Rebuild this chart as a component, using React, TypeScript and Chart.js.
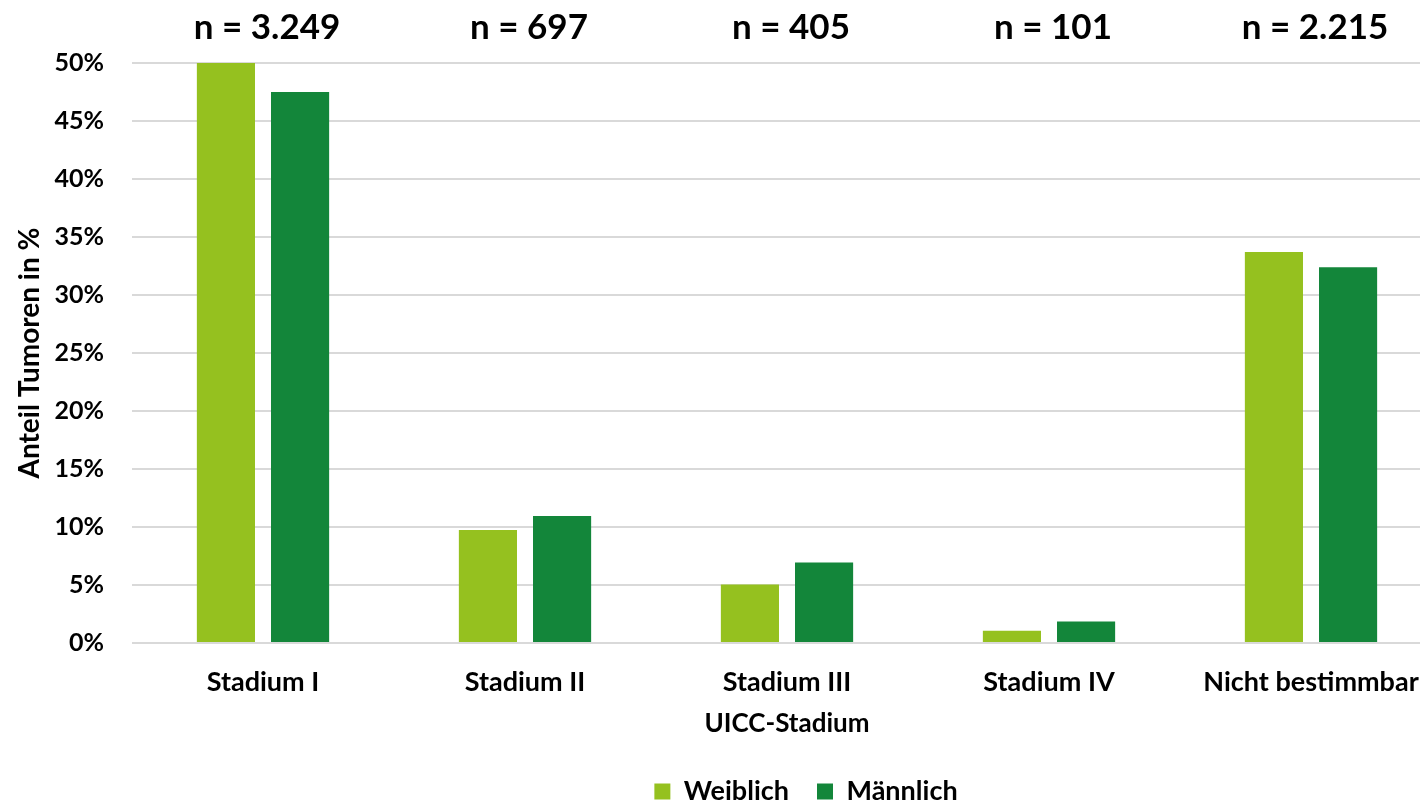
import React, { useEffect, useRef } from "react";
import { Chart, registerables } from "chart.js";

Chart.register(...registerables);

const categories = ["Stadium I", "Stadium II", "Stadium III", "Stadium IV", "Nicht bestimmbar"];
const weiblich = [50.0, 9.75, 5.05, 1.05, 33.7];
const maennlich = [47.5, 10.95, 6.95, 1.85, 32.4];
const nLabels = ["n = 3.249", "n = 697", "n = 405", "n = 101", "n = 2.215"];
const seriesNames = ["Weiblich", "Männlich"];
const seriesColors = ["#95C11F", "#13863A"];

const FONT = "Lato, 'Open Sans', sans-serif";

const nLabelPlugin = {
  id: "nLabels",
  afterLayout(chart: any) {
    const lg = chart.legend;
    if (lg) {
      const shift = 85;
      lg.left += shift;
      lg.right += shift;
    }
  },
  afterDraw(chart: any) {
    const ctx = chart.ctx;
    const xs = chart.scales.x;
    ctx.save();
    ctx.font = `bold 35px ${FONT}`;
    ctx.fillStyle = "#000";
    ctx.textAlign = "center";
    ctx.textBaseline = "alphabetic";
    nLabels.forEach((t, i) => {
      ctx.fillText(t, xs.getPixelForValue(i) + 4, 39);
    });
    ctx.restore();
  },
};

export default function App() {
  const ref = useRef<HTMLCanvasElement>(null);
  useEffect(() => {
    document.body.style.margin = "0";
    document.body.style.overflow = "hidden";
    const chart = new Chart(ref.current!, {
      type: "bar",
      data: {
        labels: categories,
        datasets: [
          { label: seriesNames[0], data: weiblich, backgroundColor: seriesColors[0] },
          { label: seriesNames[1], data: maennlich, backgroundColor: seriesColors[1] },
        ],
      },
      plugins: [nLabelPlugin],
      options: {
        responsive: false,
        animation: false,
        devicePixelRatio: 1,
        layout: { padding: { top: 63, bottom: 5, left: 0, right: 4 } },
        datasets: {
          bar: { categoryPercentage: 0.566, barPercentage: 0.784 },
        },
        plugins: {
          legend: {
            position: "bottom",
            labels: {
              boxWidth: 16,
              boxHeight: 16,
              padding: 28,
              color: "#000",
              font: { family: FONT, size: 27, weight: "bold" },
            },
          },
          tooltip: { enabled: false },
        },
        scales: {
          x: {
            grid: { display: false },
            border: { display: false },
            ticks: {
              color: "#000",
              padding: 15,
              maxRotation: 0,
              autoSkip: false,
              font: { family: FONT, size: 27, weight: "bold" },
            },
            title: {
              display: true,
              text: "UICC-Stadium",
              color: "#000",
              padding: { top: 0, bottom: 11 },
              font: { family: FONT, size: 26, weight: "bold" },
            },
            afterFit: (s: any) => {
              s.height = 107;
            },
          },
          y: {
            min: 0,
            max: 50,
            grid: { color: "#d9d9d9", lineWidth: 2, drawTicks: false },
            border: { display: false },
            ticks: {
              stepSize: 5,
              color: "#000",
              padding: 28,
              callback: (v: any) => v + "%",
              font: { family: FONT, size: 25, weight: "bold" },
            },
            title: {
              display: true,
              text: "Anteil Tumoren in %",
              color: "#000",
              padding: { top: 13, bottom: 0 },
              font: { family: FONT, size: 28, weight: "bold" },
            },
            afterFit: (s: any) => {
              s.width = 132;
            },
          },
        },
      },
    });
    return () => chart.destroy();
  }, []);
  return (
    <div style={{ position: "absolute", left: 0, top: 0, width: 1420, height: 805, overflow: "hidden" }}>
      <canvas ref={ref} width={1446} height={820} style={{ width: 1446, height: 820, display: "block" }} />
    </div>
  );
}
